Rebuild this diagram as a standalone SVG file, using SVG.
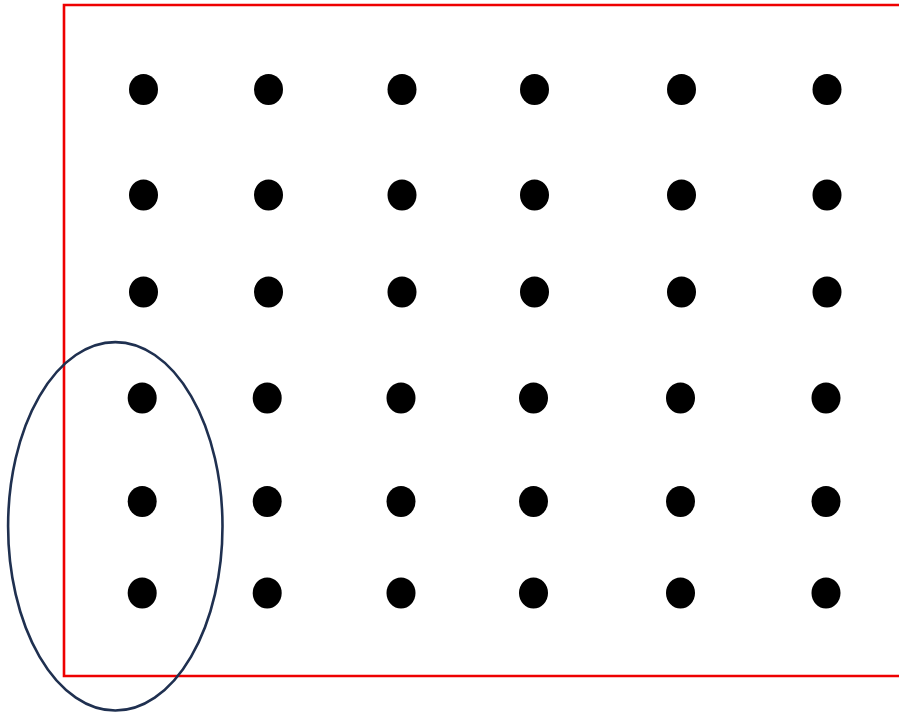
<svg xmlns="http://www.w3.org/2000/svg" width="899" height="712" viewBox="0 0 899 712">
<style>
.dot{fill:#000}
.frame{fill:none;stroke:#ee0000;stroke-width:2.6}
.group{fill:none;stroke:#1f3050;stroke-width:2.6}
</style>
<defs><ellipse id="d" cx="0" cy="0" rx="14.5" ry="15.5" class="dot"/></defs>
<rect width="899" height="712" fill="#fff"/>
<path class="frame" d="M901 5 H64 V676 H901"/>
<g id="dots">
<g id="row1"><use href="#d" x="143.5" y="89.5"/><use href="#d" x="268.5" y="89.5"/><use href="#d" x="402" y="89.5"/><use href="#d" x="534.5" y="89.5"/><use href="#d" x="681.5" y="89.5"/><use href="#d" x="827" y="89.5"/></g>
<g id="row2"><use href="#d" x="143.5" y="195"/><use href="#d" x="268.5" y="195"/><use href="#d" x="402" y="195"/><use href="#d" x="534.5" y="195"/><use href="#d" x="681.5" y="195"/><use href="#d" x="827" y="195"/></g>
<g id="row3"><use href="#d" x="143.5" y="292"/><use href="#d" x="268.5" y="292"/><use href="#d" x="402" y="292"/><use href="#d" x="534.5" y="292"/><use href="#d" x="681.5" y="292"/><use href="#d" x="827" y="292"/></g>
<g id="row4"><use href="#d" x="142.2" y="398"/><use href="#d" x="267.2" y="398"/><use href="#d" x="401" y="398"/><use href="#d" x="533.5" y="398"/><use href="#d" x="680.5" y="398"/><use href="#d" x="826" y="398"/></g>
<g id="row5"><use href="#d" x="142.2" y="501.5"/><use href="#d" x="267.2" y="501.5"/><use href="#d" x="401" y="501.5"/><use href="#d" x="533.5" y="501.5"/><use href="#d" x="680.5" y="501.5"/><use href="#d" x="826" y="501.5"/></g>
<g id="row6"><use href="#d" x="142.2" y="593"/><use href="#d" x="267.2" y="593"/><use href="#d" x="401" y="593"/><use href="#d" x="533.5" y="593"/><use href="#d" x="680.5" y="593"/><use href="#d" x="826" y="593"/></g>
</g>
<ellipse id="selection" class="group" cx="115.3" cy="526.3" rx="107.2" ry="184.2"/>
</svg>
